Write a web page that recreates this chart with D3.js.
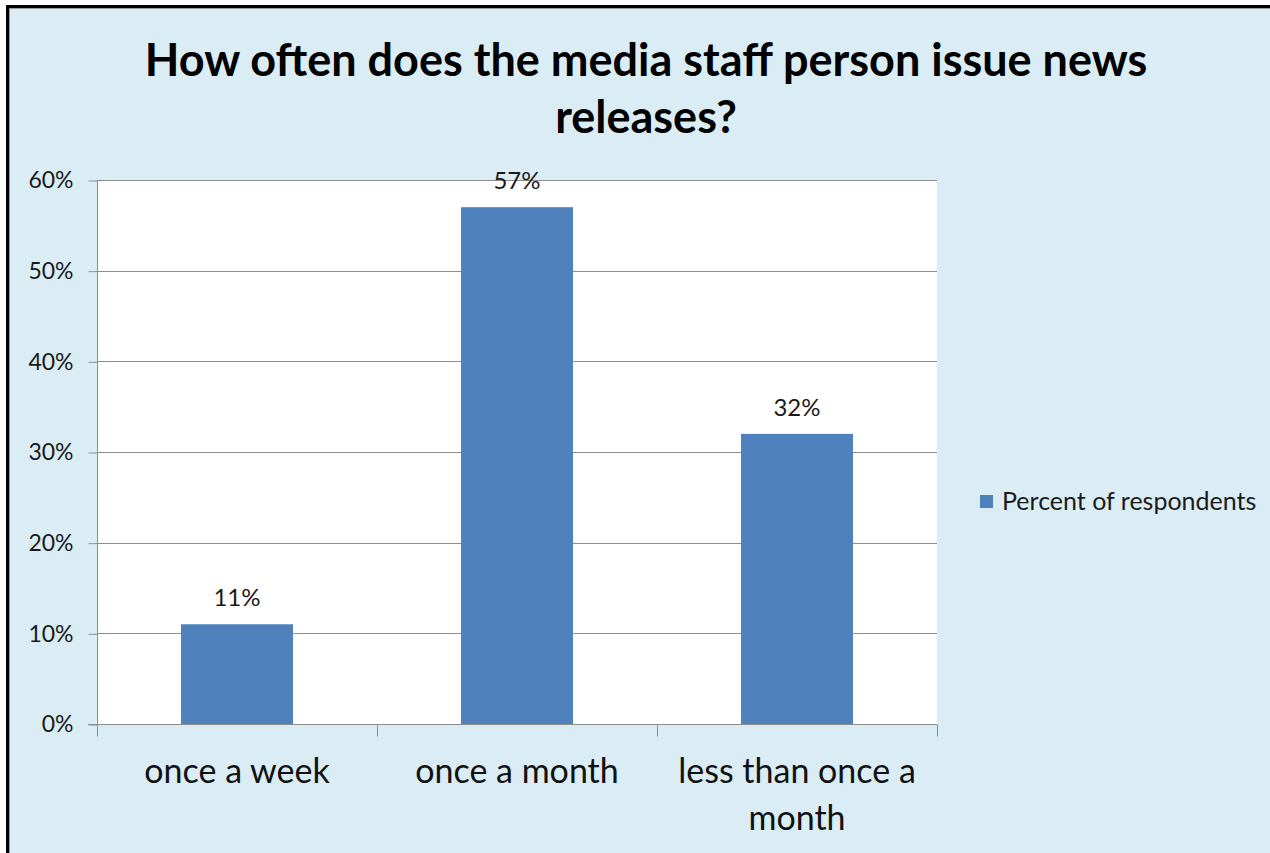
<!DOCTYPE html>
<html>
<head>
<meta charset="utf-8">
<script src="https://cdn.jsdelivr.net/npm/d3@7"></script>
<style>
  html, body { margin: 0; padding: 0; background: #ffffff; }
  svg { display: block; }
  text { font-family: Lato, "Open Sans", sans-serif; }
</style>
</head>
<body>
<svg id="chart" width="1270" height="853"></svg>
<script>
// Survey responses
const categories = ["once a week", "once a month", "less than once a month"];
const categoryLines = [["once a week"], ["once a month"], ["less than once a", "month"]];
const values = [0.11, 0.57, 0.32];
const valueLabels = ["11%", "57%", "32%"];
const yTicks = [0, 0.1, 0.2, 0.3, 0.4, 0.5, 0.6];
const seriesName = "Percent of respondents";
const titleLines = ["How often does the media staff person issue news", "releases?"];

const W = 1270, H = 853;
const svg = d3.select("#chart");

// Chart area background and frame
svg.append("rect").attr("x", 0).attr("y", 0).attr("width", W).attr("height", H).attr("fill", "#ffffff");
svg.append("rect").attr("x", 9).attr("y", 8).attr("width", W - 9).attr("height", H - 8).attr("fill", "#dbedf4");
svg.append("line").attr("x1", 7.5).attr("x2", 7.5).attr("y1", 5).attr("y2", H).attr("stroke", "#000").attr("stroke-width", 3);
svg.append("line").attr("x1", 6).attr("x2", W).attr("y1", 6.5).attr("y2", 6.5).attr("stroke", "#000").attr("stroke-width", 3);
svg.append("line").attr("x1", 9.5).attr("x2", 9.5).attr("y1", 8).attr("y2", H).attr("stroke", "#9a9a9a").attr("stroke-width", 1);
svg.append("line").attr("x1", 9).attr("x2", W).attr("y1", 8.5).attr("y2", 8.5).attr("stroke", "#9a9a9a").attr("stroke-width", 1);

// Title
svg.append("text")
  .attr("x", 646).attr("y", 76)
  .attr("text-anchor", "middle")
  .attr("font-size", 45).attr("font-weight", "bold").attr("fill", "#000")
  .selectAll("tspan").data(titleLines).join("tspan")
  .attr("x", 646).attr("dy", (d, i) => i === 0 ? 0 : 57)
  .text(d => d);

const plot = { left: 97, right: 937, top: 180, bottom: 724 };

const x = d3.scaleBand().domain(categories).range([plot.left, plot.right]).paddingInner(0.6).paddingOuter(0.3);
const xOuter = d3.scaleBand().domain(categories).range([plot.left, plot.right]);
const y = d3.scaleLinear().domain([0, 0.6]).range([plot.bottom, plot.top]);

// Plot area
svg.append("rect")
  .attr("x", plot.left).attr("y", plot.top)
  .attr("width", plot.right - plot.left).attr("height", plot.bottom - plot.top)
  .attr("fill", "#ffffff");

// Gridlines
svg.append("g").selectAll("line").data(yTicks.filter(d => d > 0)).join("line")
  .attr("x1", plot.left).attr("x2", plot.right)
  .attr("y1", d => Math.round(y(d)) + 0.5).attr("y2", d => Math.round(y(d)) + 0.5)
  .attr("stroke", "#8c8c8c").attr("stroke-width", 1);

// Bars
svg.append("g").selectAll("rect").data(values).join("rect")
  .attr("x", (d, i) => x(categories[i]))
  .attr("y", d => y(d))
  .attr("width", x.bandwidth())
  .attr("height", d => y(0) - y(d))
  .attr("fill", "#4f81bd");

// Value labels
svg.append("g").selectAll("text").data(values).join("text")
  .attr("x", (d, i) => x(categories[i]) + x.bandwidth() / 2)
  .attr("y", d => y(d) - 18)
  .attr("text-anchor", "middle")
  .attr("font-size", 24).attr("fill", "#1a1a1a")
  .text((d, i) => valueLabels[i]);

// Y axis
const yAxis = d3.axisLeft(y).tickValues(yTicks).tickFormat(d3.format(".0%")).tickSize(9).tickPadding(15);
const gy = svg.append("g").attr("transform", `translate(${plot.left + 0.5},0.5)`).call(yAxis);
gy.select(".domain").attr("stroke", "#8c8c8c").attr("d", `M0,${plot.top}V${plot.bottom}`);
gy.selectAll(".tick line").attr("stroke", "#8c8c8c");
gy.selectAll(".tick text").attr("font-size", 23).attr("fill", "#1a1a1a").attr("font-family", "Lato, sans-serif");

// X axis with tick marks at category boundaries
const gx = svg.append("g").attr("transform", `translate(0,${plot.bottom + 0.5})`);
gx.append("line").attr("x1", plot.left - 9).attr("x2", plot.right).attr("y1", 0).attr("y2", 0).attr("stroke", "#8c8c8c");
const bounds = categories.map(c => xOuter(c)).concat([plot.right]);
gx.selectAll("line.tk").data(bounds).join("line").attr("class", "tk")
  .attr("x1", d => Math.round(d) + 0.5).attr("x2", d => Math.round(d) + 0.5)
  .attr("y1", 0).attr("y2", 12).attr("stroke", "#8c8c8c");

// Category labels
gx.selectAll("text.cat").data(categoryLines).join("text").attr("class", "cat")
  .attr("text-anchor", "middle")
  .attr("font-size", 34).attr("fill", "#111")
  .each(function(lines, i) {
    const cx = xOuter(categories[i]) + xOuter.bandwidth() / 2;
    d3.select(this).selectAll("tspan").data(lines).join("tspan")
      .attr("x", cx).attr("y", (d, j) => 58 + j * 47)
      .text(d => d);
  });

// Legend
const lg = svg.append("g").attr("transform", "translate(980,495)");
lg.append("rect").attr("x", 0).attr("y", 0).attr("width", 13).attr("height", 13).attr("fill", "#4f81bd");
lg.append("text").attr("x", 22).attr("y", 15).attr("font-size", 25).attr("fill", "#1a1a1a").text(seriesName);
</script>
</body>
</html>
